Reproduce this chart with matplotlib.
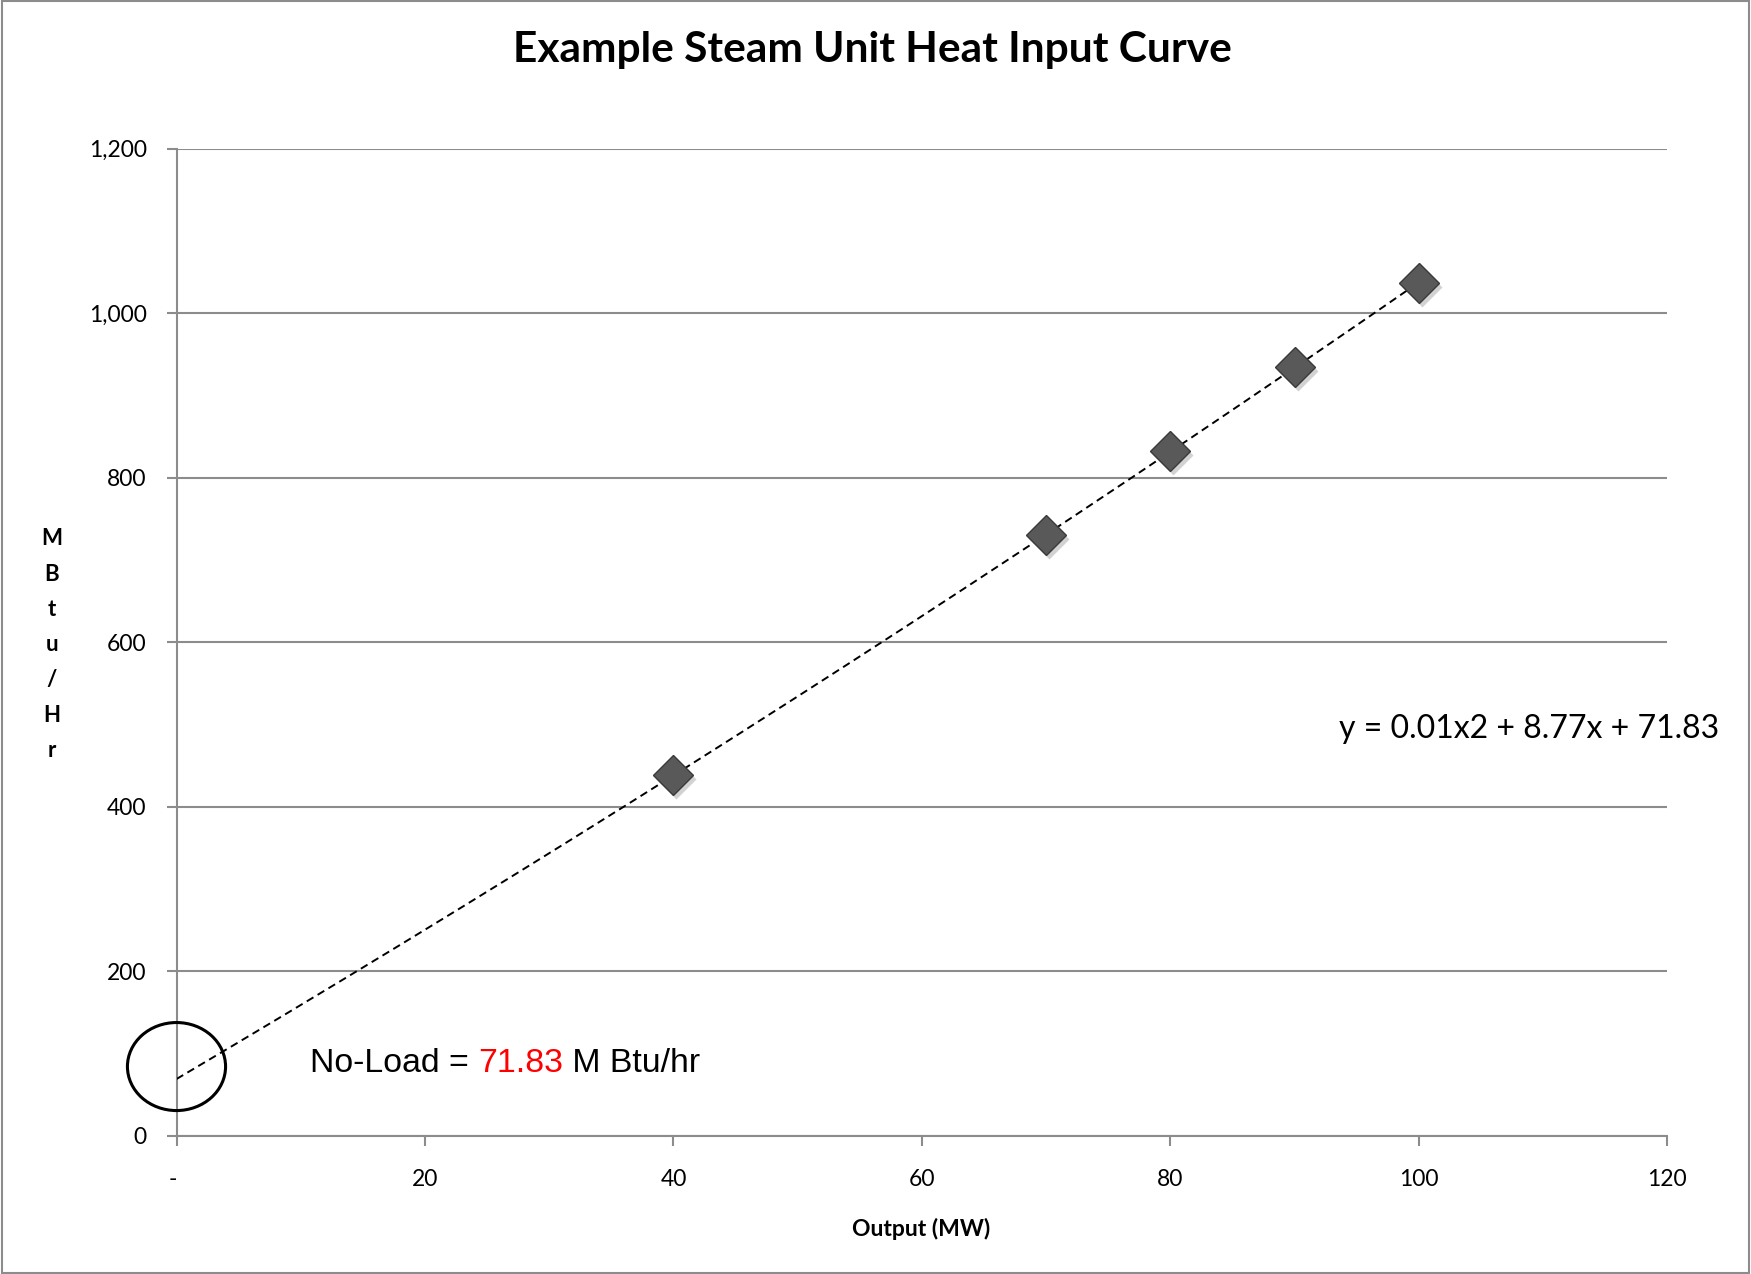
import matplotlib
matplotlib.use("Agg")
from matplotlib import pyplot as plt
from matplotlib import font_manager
from matplotlib.patches import Ellipse, Rectangle
from matplotlib.ticker import FuncFormatter
import matplotlib.transforms as mtransforms
import numpy as np

# dados
output_mw = [40, 70, 80, 90, 100]
heat_input = [438, 730, 832, 934, 1037]
x_ticks = [0, 20, 40, 60, 80, 100, 120]
y_ticks = [0, 200, 400, 600, 800, 1000, 1200]
eq_text = "y = 0.01x2 + 8.77x + 71.83"
no_load = 71.83

plt.rcParams['font.family'] = ['Lato', 'DejaVu Sans']
grid_c = '#8c8c8c'

fig = plt.figure(figsize=(17.51, 12.74), dpi=100)
ax = fig.add_axes([0.1008, 0.1086, 0.8514, 0.7748])

# linha de tendencia (polinomio de grau 2)
coef = np.polyfit(output_mw, heat_input, 2)
xs = np.linspace(0, 100, 200)
ax.plot(xs, np.polyval(coef, xs), color='black', lw=1.4, ls=(0, (4, 2.5)), zorder=4)

# sombra dos marcadores
shadow = mtransforms.offset_copy(ax.transData, fig=fig, x=3, y=-4, units='dots')
ax.plot(output_mw, heat_input, 'D', ms=20, color='#d2d2d2', mec='none', transform=shadow, zorder=3, clip_on=False)
ax.plot(output_mw, heat_input, 'D', ms=20, color='#595959', mec='#3a3a3a', mew=1, zorder=5)

ax.set_xlim(0, 120)
ax.set_ylim(0, 1200)
ax.set_xticks(x_ticks)
ax.set_yticks(y_ticks)
ax.xaxis.set_major_formatter(FuncFormatter(lambda v, p: '- ' if v == 0 else f'{v:,.0f}'))
ax.yaxis.set_major_formatter(FuncFormatter(lambda v, p: f'{v:,.0f}'))
ax.tick_params(axis='both', labelsize=16.5, color=grid_c, width=1.5, length=7, direction='out')
ax.tick_params(axis='x', pad=17)
ax.tick_params(axis='y', pad=14.5)
ax.yaxis.grid(True, color=grid_c, lw=1.5)
ax.set_axisbelow(True)
for s in ['top', 'right']:
    ax.spines[s].set_visible(False)
for s in ['left', 'bottom']:
    ax.spines[s].set_color(grid_c)
    ax.spines[s].set_linewidth(1.5)

# circulo no ponto sem carga
ax.add_patch(Ellipse((0, 84), 7.9, 107, fill=False, ec='black', lw=2.2, clip_on=False, zorder=6))

# textos
fig.text(0.498, 0.961, "Example Steam Unit Heat Input Curve", ha='center', va='center',
         fontsize=30.5, fontweight='bold')
fig.text(0.526, 0.035, "Output (MW)", ha='center', va='center', fontsize=16.5, fontweight='bold')
fig.text(0.0297, 0.494, "\n".join("MBtu/Hr"), ha='center', va='center', fontsize=16,
         fontweight='bold', linespacing=1.84)
fig.text(0.873, 0.428, eq_text, ha='center', va='center', fontsize=23)

# texto "No-Load" com o valor em vermelho
try:
    font_manager.findfont('Liberation Sans Narrow', fallback_to_default=False)
    nl_family = ['Liberation Sans Narrow', 'DejaVu Sans']
except ValueError:
    nl_family = ['Liberation Sans', 'DejaVu Sans']

renderer = fig.canvas.get_renderer()
parts = [("No-Load = ", 'black'), (f"{no_load:.2f}", 'red'), (" M Btu/hr", 'black')]
probe = fig.text(0, 0, "".join(p[0] for p in parts), fontsize=28, family=nl_family)
w = probe.get_window_extent(renderer=renderer).width
probe.remove()
nl_size = 28 * 391 / w

x0, y0 = 0.177, 0.165
for txt, c in parts:
    t = fig.text(x0, y0, txt, ha='left', va='center', fontsize=nl_size, color=c, family=nl_family)
    bb = t.get_window_extent(renderer=renderer)
    x0 = bb.x1 / fig.bbox.width

# borda da figura
fig.patches.append(Rectangle((0.001, 0.001), 0.998, 0.998, transform=fig.transFigure,
                             fill=False, ec='#8c8c8c', lw=1.5))

fig.savefig('out.png', dpi=100)
